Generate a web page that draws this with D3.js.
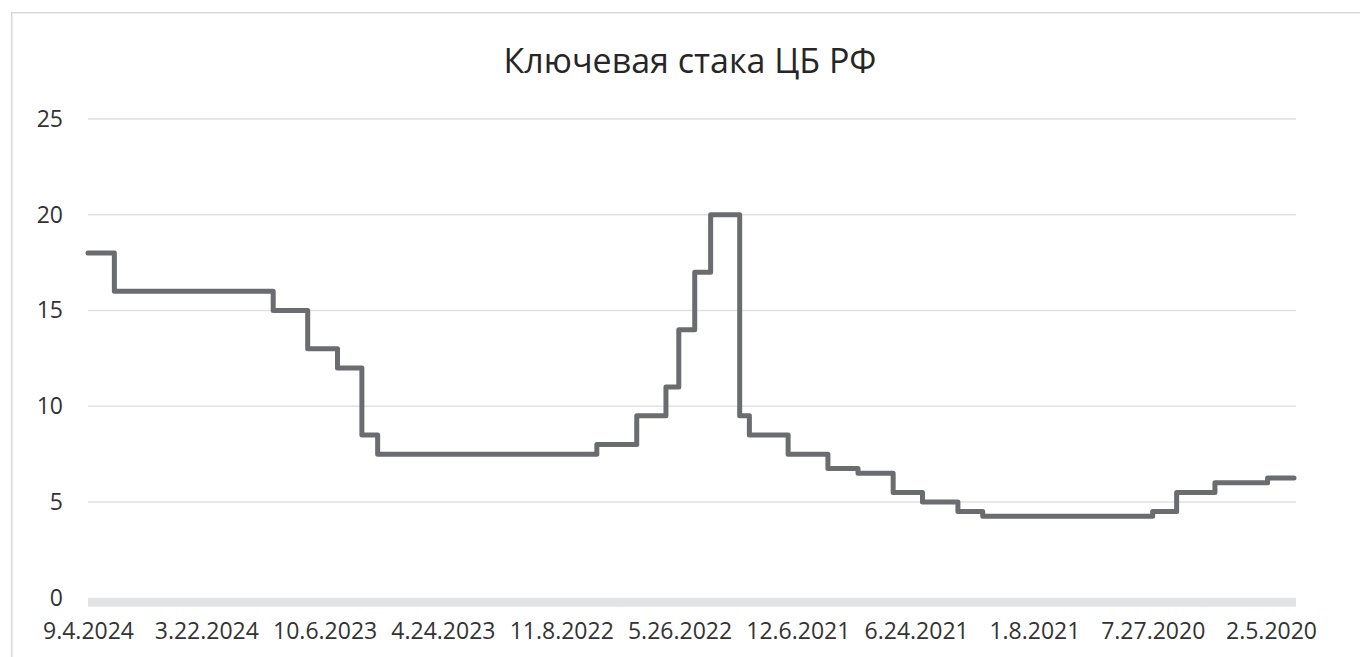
<!DOCTYPE html>
<html>
<head>
<meta charset="utf-8">
<script src="https://cdn.jsdelivr.net/npm/d3@7"></script>
<style>
    body { margin: 0; background: #fff; }
    text { font-family: "Open Sans", "DejaVu Sans", sans-serif; }
</style>
</head>
<body>
<svg class="chart"></svg>
<script>
var width = 1360;
var height = 657;
var margin = {top: 119, right: 66, bottom: 59.25, left: 88};
var w = width - margin.left - margin.right;
var h = height - margin.top - margin.bottom; // plot area inside the frame

// key rate decisions (date the rate took effect, M.D.YYYY) and the rate in %
// first and last entries are where the series starts and ends on the chart
var rateDates = ["1.3.2020", "2.10.2020", "4.27.2020", "6.22.2020", "7.27.2020",
    "3.22.2021", "4.26.2021", "6.15.2021", "7.26.2021", "9.13.2021", "10.25.2021",
    "12.20.2021", "2.14.2022", "2.28.2022", "4.11.2022", "5.4.2022", "5.27.2022",
    "6.14.2022", "7.25.2022", "9.19.2022", "7.24.2023", "8.15.2023", "9.18.2023",
    "10.30.2023", "12.18.2023", "7.29.2024", "9.4.2024"];
var rateValues = [6.25, 6, 5.5, 4.5, 4.25,
    4.5, 5, 5.5, 6.5, 6.75, 7.5,
    8.5, 9.5, 20, 17, 14, 11,
    9.5, 8, 7.5, 8.5, 12, 13,
    15, 16, 18, 18];

// category labels shown under the axis, newest first
var tickLabels = ["9.4.2024", "3.22.2024", "10.6.2023", "4.24.2023", "11.8.2022",
    "5.26.2022", "12.6.2021", "6.24.2021", "1.8.2021", "7.27.2020", "2.5.2020"];
var yTicks = [0, 5, 10, 15, 20, 25];

var title = "Ключевая стака ЦБ РФ";

var parseDate = d3.timeParse("%m.%d.%Y");
var fmtDate = d3.timeFormat("%-m.%-d.%Y");

var data = rateDates.map(function(d, i) {
    return {date: parseDate(d), rate: rateValues[i]};
});
var tickDates = tickLabels.map(parseDate);

var svg = d3.select(".chart")
    .attr("width", width)
    .attr("height", height);

// light frame of the chart area (runs off the right and bottom edge)
svg.append("rect")
    .attr("x", 11.75)
    .attr("y", 12.75)
    .attr("width", width + 20)
    .attr("height", height + 20)
    .style("fill", "none")
    .style("stroke", "#d9d9d9")
    .style("stroke-width", 1.5);

svg.append("text")
    .attr("x", 690)
    .attr("y", 73)
    .style("text-anchor", "middle")
    .style("font-size", "34px")
    .style("fill", "#262626")
    .text(title);

var chart = svg.append("g")
    .attr("transform", "translate(" + margin.left + "," + margin.top + ")");

// category axis: labels are evenly spaced, so the time scale is piecewise
var step = 118.3;
var xDomain = tickDates.concat([data[0].date]);
var xRange = tickDates.map(function(d, i) { return i * step; }).concat([w]);

var x = d3.scaleTime()
    .domain(xDomain)
    .range(xRange);

var y = d3.scaleLinear()
    .domain([0, 25])
    .range([h, 0]);

// horizontal gridlines
chart.append("g")
    .selectAll("line")
    .data(yTicks.filter(function(d) { return d > 0; }))
    .enter().append("line")
    .attr("x1", 0)
    .attr("x2", w + 2)
    .attr("y1", function(d) { return y(d); })
    .attr("y2", function(d) { return y(d); })
    .style("stroke", "#e1e1e1")
    .style("stroke-width", 1.3);

// the thick pale category axis line
chart.append("line")
    .attr("x1", 0)
    .attr("x2", w + 2)
    .attr("y1", y(0) + 4.5)
    .attr("y2", y(0) + 4.5)
    .style("stroke", "#e2e3e4")
    .style("stroke-width", 9);

var yAxis = d3.axisLeft(y)
    .tickValues(yTicks)
    .tickSize(0)
    .tickPadding(25);

chart.append("g")
    .attr("class", "axis")
    .call(yAxis)
    .call(function(g) { g.select(".domain").remove(); })
    .selectAll("text")
    .style("font-size", "23px")
    .style("fill", "#333");

var xAxis = d3.axisBottom(x)
    .tickValues(tickDates)
    .tickFormat(fmtDate)
    .tickSize(0)
    .tickPadding(25);

chart.append("g")
    .attr("class", "axis")
    .attr("transform", "translate(0," + h + ")")
    .call(xAxis)
    .call(function(g) { g.select(".domain").remove(); })
    .selectAll("text")
    .style("font-size", "23px")
    .style("fill", "#333");

// the key rate as a step line
var line = d3.line()
    .x(function(d) { return x(d.date); })
    .y(function(d) { return y(d.rate); })
    .curve(d3.curveStepAfter);

chart.append("path")
    .datum(data)
    .attr("d", line)
    .style("fill", "none")
    .style("stroke", "#6b6c70")
    .style("stroke-width", 5)
    .style("stroke-linejoin", "round")
    .style("stroke-linecap", "round");
</script>
</body>
</html>
